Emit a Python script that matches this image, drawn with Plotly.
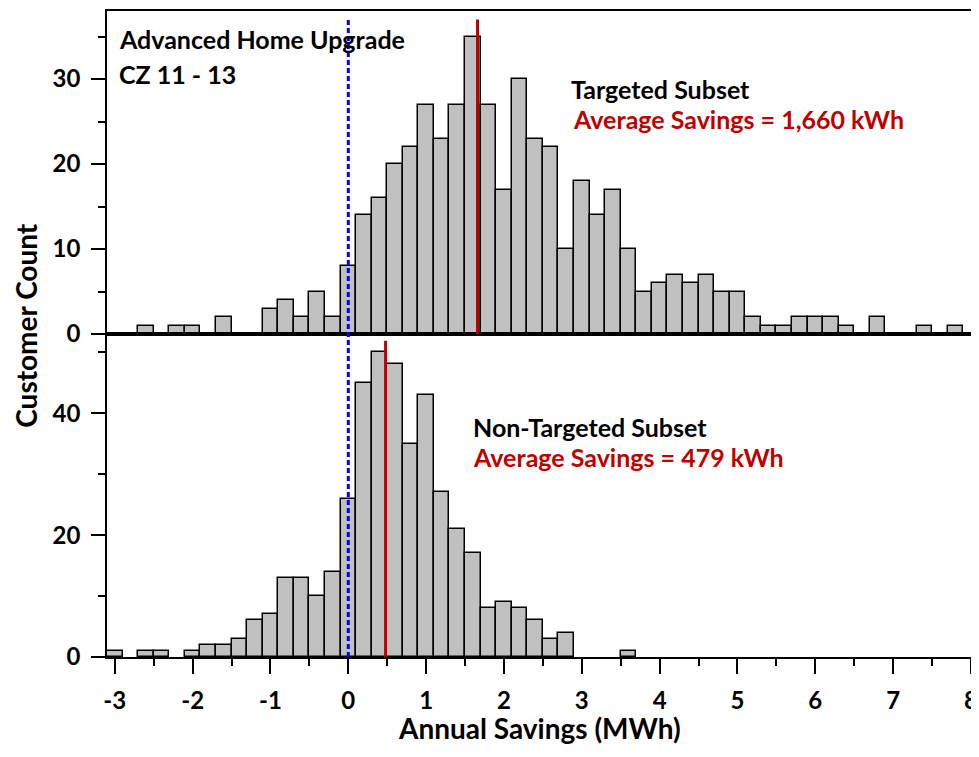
import plotly.graph_objects as go
from plotly.subplots import make_subplots

# Targeted subset histogram (bin centers in MWh, bin width 0.2)
targeted_centers = [-2.6, -2.2, -2.0, -1.6, -1.0, -0.8, -0.6, -0.4, -0.2, 0.0,
                    0.2, 0.4, 0.6, 0.8, 1.0, 1.2, 1.4, 1.6, 1.8, 2.0,
                    2.2, 2.4, 2.6, 2.8, 3.0, 3.2, 3.4, 3.6, 3.8, 4.0,
                    4.2, 4.4, 4.6, 4.8, 5.0, 5.2, 5.4, 5.6, 5.8, 6.0,
                    6.2, 6.4, 6.8, 7.4, 7.8]
targeted_counts = [1, 1, 1, 2, 3, 4, 2, 5, 2, 8,
                   14, 16, 20, 22, 27, 23, 27, 35, 27, 17,
                   30, 23, 22, 10, 18, 14, 17, 10, 5, 6,
                   7, 6, 7, 5, 5, 2, 1, 1, 2, 2,
                   2, 1, 2, 1, 1]

# Non-targeted subset histogram
nontargeted_centers = [-3.0, -2.6, -2.4, -2.0, -1.8, -1.6, -1.4, -1.2, -1.0, -0.8,
                       -0.6, -0.4, -0.2, 0.0, 0.2, 0.4, 0.6, 0.8, 1.0, 1.2,
                       1.4, 1.6, 1.8, 2.0, 2.2, 2.4, 2.6, 2.8, 3.6]
nontargeted_counts = [1, 1, 1, 1, 2, 2, 3, 6, 7, 13,
                      13, 10, 14, 26, 45, 50, 48, 35, 43, 27,
                      21, 17, 8, 9, 8, 6, 3, 4, 1]

bin_width = 0.2
targeted_mean = 1.660
nontargeted_mean = 0.479

x_tickvals = [-3, -2, -1, 0, 1, 2, 3, 4, 5, 6, 7, 8]
x_ticktext = ["-3", "-2", "-1", "0", "1", "2", "3", "4", "5", "6", "7", "8"]
top_y_ticks = [0, 10, 20, 30]
bottom_y_ticks = [0, 20, 40]

FONT = "Lato"
RED = "#C00000"

fig = make_subplots(rows=2, cols=1, shared_xaxes=True, vertical_spacing=0)

bar_style = dict(marker=dict(color="#C0C0C0", line=dict(color="black", width=1.5)),
                 width=bin_width, showlegend=False, hoverinfo="x+y")
fig.add_trace(go.Bar(x=targeted_centers, y=targeted_counts, **bar_style), row=1, col=1)
fig.add_trace(go.Bar(x=nontargeted_centers, y=nontargeted_counts, **bar_style), row=2, col=1)

# mean lines
fig.add_shape(type="line", xref="x", yref="y", x0=targeted_mean, x1=targeted_mean,
              y0=0, y1=37.0, line=dict(color=RED, width=3))
fig.add_shape(type="line", xref="x2", yref="y2", x0=nontargeted_mean, x1=nontargeted_mean,
              y0=0, y1=51.9, line=dict(color=RED, width=3))
# zero line (blue dotted)
fig.add_shape(type="line", xref="x2", yref="paper", x0=0, x1=0, y0=0, y1=0.989,
              line=dict(color="#0000FF", width=3, dash="5px,3px"))

axis_font = dict(family=FONT, size=24, color="black", weight="bold")

fig.update_xaxes(range=[-3.1, 8.0], showline=True, linecolor="black", linewidth=1.5,
                 mirror=True, showgrid=False, zeroline=False)
fig.update_xaxes(row=1, col=1, ticks="", showticklabels=False)
fig.update_xaxes(row=2, col=1, tickvals=x_tickvals, ticktext=x_ticktext, ticks="outside",
                 ticklen=15, tickwidth=1.5, tickcolor="black", tickfont=axis_font,
                 ticklabelstandoff=6,
                 minor=dict(dtick=0.5, tick0=0, ticks="outside", ticklen=7,
                            tickwidth=1.5, tickcolor="black", showgrid=False))

fig.update_yaxes(showline=True, linecolor="black", linewidth=1.5, mirror=True,
                 showgrid=False, zeroline=False, ticks="outside", ticklen=14,
                 tickwidth=1.5, tickcolor="black", tickfont=axis_font,
                 ticklabelstandoff=6)
fig.update_yaxes(row=1, col=1, range=[0, 38], tickvals=top_y_ticks,
                 minor=dict(dtick=5, tick0=0, ticks="outside", ticklen=7,
                            tickwidth=1.5, tickcolor="black", showgrid=False))
fig.update_yaxes(row=2, col=1, range=[0, 53], tickvals=bottom_y_ticks,
                 minor=dict(dtick=10, tick0=0, ticks="outside", ticklen=7,
                            tickwidth=1.5, tickcolor="black", showgrid=False))

def txt(text, x, y, color="black", size=25, **kw):
    fig.add_annotation(text=text, xref="paper", yref="paper", x=x, y=y,
                       xanchor=kw.pop("xanchor", "left"), yanchor=kw.pop("yanchor", "middle"),
                       showarrow=False,
                       font=dict(family=FONT, size=size, color=color, weight="bold"), **kw)

# paper coords relative to plot area (865 x 648 px)
txt("Advanced Home Upgrade", 0.012, 0.956)
txt("CZ 11 - 13", 0.012, 0.903)
txt("Targeted Subset", 0.535, 0.8796)
txt("Average Savings = 1,660 kWh", 0.5376, 0.8333, color=RED)
txt("Non-Targeted Subset", 0.421, 0.3565)
txt("Average Savings = 479 kWh", 0.421, 0.310, color=RED)
txt("Annual Savings (MWh)", 0.5006, -0.1095, size=28, xanchor="center", borderpad=0)
txt("Customer Count", -0.094, 0.514, size=28, xanchor="center", textangle=-90, borderpad=0)

# page body has an 8px margin; compensate so the plot area lands at x 107-972, y 9-657
fig.update_layout(width=971, height=749, margin=dict(l=99, r=7, t=1, b=100),
                  plot_bgcolor="white", paper_bgcolor="white", bargap=0)

fig.write_html("out.html")
